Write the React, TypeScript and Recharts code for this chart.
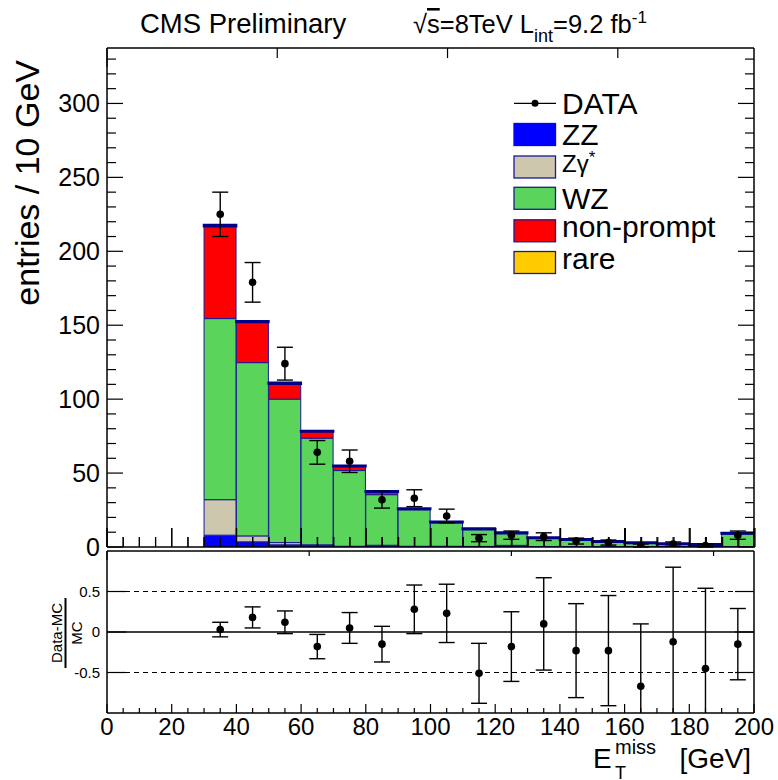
import React from 'react';
import { ComposedChart, Bar, Scatter, XAxis, YAxis, ErrorBar, ReferenceLine, Legend } from 'recharts';

const FONT = '"Liberation Sans", Arial, Helvetica, sans-serif';

// ---------------- data ----------------
const BIN_LABELS = ['0-10', '10-20', '20-30', '30-40', '40-50', '50-60', '60-70', '70-80', '80-90', '90-100',
  '100-110', '110-120', '120-130', '130-140', '140-150', '150-160', '160-170', '170-180', '180-190', '190-200'];
const ZZ =        [0, 0, 0, 8, 3.5, 1.5, 1, 0.3, 1, 0.3, 0.3, 0.3, 1, 0.2, 0.2, 0.2, 0.2, 0.2, 0.2, 0.2];
const ZGAMMA =    [0, 0, 0, 24, 4, 1.5, 0.5, 0.2, 0.2, 0.2, 0.2, 0.1, 0.1, 0.1, 0.1, 0.1, 0.1, 0.1, 0.1, 0.1];
const WZ =        [0, 0, 0, 122.5, 117.2, 97, 72.1, 51.2, 34.2, 24.7, 15.9, 11.5, 8.1, 5.6, 4.4, 3.1, 2.2, 1.5, 1.0, 8.6];
const NONPROMPT = [0, 0, 0, 62.5, 27.5, 10.5, 4.5, 3, 2, 0.5, 0.3, 0.2, 0.2, 0.2, 0.2, 0.2, 0.2, 0.2, 0.2, 0.2];
const RARE =      [0, 0, 0, 0.7, 0.5, 0.5, 0.4, 0.3, 0.3, 0.3, 0.3, 0.3, 0.3, 0.3, 0.3, 0.3, 0.3, 0.3, 0.3, 0.3];

const DATA_X =   [35, 45, 55, 65, 75, 85, 95, 105, 115, 125, 135, 145, 155, 165, 175, 185, 195];
const DATA_Y =   [225, 179, 124, 64, 58, 32, 33, 21, 6, 8, 7, 4, 3, 1, 2, 1, 8];
const DATA_ERR = [15, 13.4, 11.1, 8, 7.6, 5.7, 5.7, 4.6, 2.4, 2.8, 2.6, 2, 1.7, 1, 1.4, 1, 2.8];
const RATIO =     [0.03, 0.18, 0.12, -0.18, 0.05, -0.15, 0.28, 0.23, -0.51, -0.18, 0.1, -0.23, -0.23, -0.67, -0.12, -0.45, -0.15];
const RATIO_ERR = [0.09, 0.13, 0.14, 0.15, 0.19, 0.22, 0.3, 0.36, 0.37, 0.43, 0.57, 0.58, 0.68, 0.77, 0.92, 0.99, 0.44];

const X_TICKS = [0, 5, 10, 15, 20, 25, 30, 35, 40, 45, 50, 55, 60, 65, 70, 75, 80, 85, 90, 95, 100,
  105, 110, 115, 120, 125, 130, 135, 140, 145, 150, 155, 160, 165, 170, 175, 180, 185, 190, 195, 200];
const X_LABELS = [0, 20, 40, 60, 80, 100, 120, 140, 160, 180, 200];
const Y_TICKS = [0, 10, 20, 30, 40, 50, 60, 70, 80, 90, 100, 110, 120, 130, 140, 150, 160, 170, 180, 190, 200,
  210, 220, 230, 240, 250, 260, 270, 280, 290, 300, 310, 320, 330];
const Y_LABELS = [0, 50, 100, 150, 200, 250, 300];
const RATIO_TICKS = [-0.5, 0, 0.5];

const COLORS = { zz: '#0000ff', zg: '#ccc7ad', wz: '#5ad45a', np: '#ff0000', rare: '#ffcc00' };
const OUTLINE = '#1a1a99';

const LEGEND_ITEMS = [
  { key: 'data', name: 'DATA' },
  { key: 'zz', name: 'ZZ' },
  { key: 'zg', name: 'Zγ' },
  { key: 'wz', name: 'WZ' },
  { key: 'np', name: 'non-prompt' },
  { key: 'rare', name: 'rare' },
];

const mainRows = BIN_LABELS.map((bin, i) => ({
  bin, zz: ZZ[i], zg: ZGAMMA[i], wz: WZ[i], np: NONPROMPT[i], rare: RARE[i],
}));
const mainPoints = DATA_X.map((x, i) => ({ x, y: DATA_Y[i], err: DATA_ERR[i] }));
const ratioPoints = DATA_X.map((x, i) => ({ x, y: RATIO[i], err: RATIO_ERR[i] }));

// ---------------- layout ----------------
const W = 778;
const YW = 99;   // left axis width
const AX = 1;    // thin axes
const MAIN_H = 560;
const MAIN_M = { top: 47, right: 23, bottom: 12, left: 8 };
const RATIO_H = 240;
const RATIO_M = { top: 10, right: 23, bottom: 66, left: 8 };
const edges = (h: number, m: any) => ({
  left: m.left + YW, right: W - m.right - AX, top: m.top + AX, bottom: h - m.bottom - AX,
});
const ME = edges(MAIN_H, MAIN_M);
const RE = edges(RATIO_H, RATIO_M);

// ---------------- tick renderers ----------------
type Side = 'left' | 'right' | 'top' | 'bottom';
const makeTick = (side: Side, edge: number, majors: number[], majorLen: number, minorLen: number, label?: { size: number; off: number }) =>
  (p: any) => {
    const v = p.payload.value;
    const c = p.payload.coordinate;
    const major = majors.indexOf(v) >= 0;
    const len = major ? majorLen : minorLen;
    let line;
    if (side === 'left') line = <line x1={edge} x2={edge + len} y1={c} y2={c} stroke="#000" strokeWidth={1.2} />;
    else if (side === 'right') line = <line x1={edge} x2={edge - len} y1={c} y2={c} stroke="#000" strokeWidth={1.2} />;
    else if (side === 'top') line = <line x1={c} x2={c} y1={edge} y2={edge + len} stroke="#000" strokeWidth={1.2} />;
    else line = <line x1={c} x2={c} y1={edge} y2={edge - len} stroke="#000" strokeWidth={1.2} />;
    let txt = null;
    if (label && major) {
      const s = String(v);
      if (side === 'left') txt = <text x={edge - label.off} y={c} dy="0.36em" textAnchor="end" fontSize={label.size} fontFamily={FONT} fill="#000">{s}</text>;
      if (side === 'bottom') txt = <text x={c} y={edge + label.off} textAnchor="middle" fontSize={label.size} fontFamily={FONT} fill="#000">{s}</text>;
    }
    return <g>{line}{txt}</g>;
  };

const dot = (p: any) => <circle cx={p.cx} cy={p.cy} r={3.8} fill="#000" />;

// ---------------- legend ----------------
const LegendBox = () => {
  const ox = 500, oy = 80;
  const rows = [103.3, 134.5, 167, 198.3, 230.8, 262.5];
  return (
    <svg width={260} height={200} style={{ overflow: 'visible' }}>
      {LEGEND_ITEMS.map((it, i) => {
        const cy = rows[i] - oy;
        if (it.key === 'data') {
          return (
            <g key={it.key}>
              <line x1={514 - ox} x2={556 - ox} y1={cy} y2={cy} stroke="#000" strokeWidth={1.3} />
              <circle cx={535 - ox} cy={cy} r={3.5} fill="#000" />
              <text x={562 - ox} y={cy + 10.5} fontSize={30} fontFamily={FONT}>{it.name}</text>
            </g>
          );
        }
        const col = (COLORS as any)[it.key];
        return (
          <g key={it.key}>
            <rect x={514 - ox} y={cy - 11} width={41.5} height={22} fill={col} stroke={it.key === 'zz' ? col : OUTLINE} strokeWidth={1.3} />
            {it.key === 'zg' ? (
              <text x={562 - ox} y={cy + 4.5} fontSize={24} fontFamily={FONT}>{it.name}<tspan dy={-9} fontSize={17}>*</tspan></text>
            ) : (
              <text x={562 - ox} y={cy + (it.key === 'np' || it.key === 'rare' ? 6.5 : 10.5)} fontSize={30} fontFamily={FONT}>{it.name}</text>
            )}
          </g>
        );
      })}
    </svg>
  );
};

// ---------------- charts ----------------
const axisLine = { stroke: '#000', strokeWidth: 1.5 };

const MainChart = () => (
  <ComposedChart width={W} height={MAIN_H} data={mainRows} margin={MAIN_M} barCategoryGap={0} barGap={0}>
    <XAxis xAxisId="cat" dataKey="bin" type="category" hide />
    <Bar xAxisId="cat" yAxisId="l" dataKey="zz" name="ZZ" stackId="s" fill={COLORS.zz} stroke={OUTLINE} strokeWidth={1} isAnimationActive={false} />
    <Bar xAxisId="cat" yAxisId="l" dataKey="zg" name="Zγ*" stackId="s" fill={COLORS.zg} stroke={OUTLINE} strokeWidth={1} isAnimationActive={false} />
    <Bar xAxisId="cat" yAxisId="l" dataKey="wz" name="WZ" stackId="s" fill={COLORS.wz} stroke={OUTLINE} strokeWidth={1} isAnimationActive={false} />
    <Bar xAxisId="cat" yAxisId="l" dataKey="np" name="non-prompt" stackId="s" fill={COLORS.np} stroke={OUTLINE} strokeWidth={1} isAnimationActive={false} />
    <Bar xAxisId="cat" yAxisId="l" dataKey="rare" name="rare" stackId="s" fill={COLORS.rare} stroke="#000088" strokeWidth={2.6} isAnimationActive={false} />
    <Scatter xAxisId="nb" yAxisId="l" data={mainPoints} dataKey="y" name="DATA" shape={dot} isAnimationActive={false}>
      <ErrorBar dataKey="err" direction="y" width={8} stroke="#000" strokeWidth={1.4} isAnimationActive={false} />
    </Scatter>
    <XAxis xAxisId="nb" dataKey="x" type="number" domain={[0, 200]} ticks={X_TICKS} interval={0} height={AX}
      tickSize={0} tickMargin={0} tickLine={false} axisLine={axisLine}
      tick={makeTick('bottom', ME.bottom, X_LABELS, 19, 10)} allowDataOverflow />
    <XAxis xAxisId="t" orientation="top" type="number" domain={[0, 200]} ticks={X_TICKS} interval={0} height={AX}
      tickSize={0} tickMargin={0} tickLine={false} axisLine={axisLine}
      tick={makeTick('top', ME.top, X_LABELS, 19, 10)} allowDataOverflow />
    <YAxis yAxisId="l" type="number" domain={[0, 337.5]} ticks={Y_TICKS} interval={0} width={YW}
      tickSize={0} tickMargin={0} tickLine={false} axisLine={axisLine}
      tick={makeTick('left', ME.left, Y_LABELS, 16, 9, { size: 25, off: 7 })} allowDataOverflow />
    <YAxis yAxisId="r" orientation="right" type="number" domain={[0, 337.5]} ticks={Y_TICKS} interval={0} width={AX}
      tickSize={0} tickMargin={0} tickLine={false} axisLine={axisLine}
      tick={makeTick('right', ME.right, Y_LABELS, 16, 9)} allowDataOverflow />
    <Legend layout="vertical" align="center" verticalAlign="middle" content={() => <LegendBox />}
      wrapperStyle={{ position: 'absolute', left: 500, top: 80, width: 260, height: 200 }} />
  </ComposedChart>
);

// transparent overlay that redraws the inward bottom ticks of the main panel on top of the filled histogram
const MainTickOverlay = () => (
  <ComposedChart width={W} height={MAIN_H} data={mainPoints} margin={MAIN_M}>
    <XAxis xAxisId="nb" dataKey="x" type="number" domain={[0, 200]} ticks={X_TICKS} interval={0} height={AX}
      tickSize={0} tickMargin={0} tickLine={false} axisLine={axisLine}
      tick={makeTick('bottom', ME.bottom, X_LABELS, 19, 10)} allowDataOverflow />
    <YAxis yAxisId="l" type="number" domain={[0, 337.5]} ticks={[]} width={YW} tick={false} axisLine={false} tickLine={false} />
  </ComposedChart>
);

const RatioChart = () => (
  <ComposedChart width={W} height={RATIO_H} data={ratioPoints} margin={RATIO_M}>
    <ReferenceLine xAxisId="b" yAxisId="l" y={0} stroke="#000" strokeWidth={1.5} />
    <ReferenceLine xAxisId="b" yAxisId="l" y={0.5} stroke="#000" strokeWidth={1.2} strokeDasharray="5 4" />
    <ReferenceLine xAxisId="b" yAxisId="l" y={-0.5} stroke="#000" strokeWidth={1.2} strokeDasharray="5 4" />
    <Scatter xAxisId="b" yAxisId="l" data={ratioPoints} dataKey="y" shape={dot} isAnimationActive={false}>
      <ErrorBar dataKey="err" direction="y" width={8} stroke="#000" strokeWidth={1.4} isAnimationActive={false} />
    </Scatter>
    <XAxis xAxisId="b" dataKey="x" type="number" domain={[0, 200]} ticks={X_TICKS} interval={0} height={AX}
      tickSize={0} tickMargin={0} tickLine={false} axisLine={axisLine}
      tick={makeTick('bottom', RE.bottom, X_LABELS, 9, 5, { size: 24, off: 22 })} allowDataOverflow />
    <XAxis xAxisId="t" orientation="top" type="number" domain={[0, 200]} ticks={X_TICKS} interval={0} height={AX}
      tickSize={0} tickMargin={0} tickLine={false} axisLine={axisLine}
      tick={makeTick('top', RE.top, X_LABELS, 9, 5)} allowDataOverflow />
    <YAxis yAxisId="l" type="number" domain={[-1, 1]} ticks={RATIO_TICKS} interval={0} width={YW}
      tickSize={0} tickMargin={0} tickLine={false} axisLine={axisLine}
      tick={makeTick('left', RE.left, RATIO_TICKS, 19, 9, { size: 15, off: 7 })} allowDataOverflow />
    <YAxis yAxisId="r" orientation="right" type="number" domain={[-1, 1]} ticks={RATIO_TICKS} interval={0} width={AX}
      tickSize={0} tickMargin={0} tickLine={false} axisLine={axisLine}
      tick={makeTick('right', RE.right, RATIO_TICKS, 19, 9)} allowDataOverflow />
  </ComposedChart>
);

const RATIO_TOP = 540;

const Titles = () => (
  <svg width={W} height={780} style={{ position: 'absolute', left: 0, top: 0, pointerEvents: 'none' }} fontFamily={FONT}>
    <defs>
      <clipPath id="ratioClip" clipPathUnits="userSpaceOnUse">
        <rect x={RE.left - 8} y={RE.top} width={RE.right - RE.left + 16} height={RE.bottom - RE.top} />
      </clipPath>
    </defs>
    <text x={140} y={33} fontSize={27.5}>CMS Preliminary</text>
    <text x={413} y={33} fontSize={25.5}>
      √<tspan style={{ textDecoration: 'overline' }}>s</tspan>=8TeV L<tspan dy={9} fontSize={18}>int</tspan>
      <tspan dy={-9}>=9.2 fb</tspan><tspan dy={-10} fontSize={17}>-1</tspan>
    </text>
    <text transform="translate(38.5,60) rotate(-90)" textAnchor="end" fontSize={34}>entries / 10 GeV</text>
    <text transform="translate(62,633) rotate(-90)" textAnchor="middle" fontSize={15}>Data-MC</text>
    <line x1={65.5} x2={65.5} y1={598} y2={668} stroke="#000" strokeWidth={2} />
    <text transform="translate(82,633) rotate(-90)" textAnchor="middle" fontSize={15}>MC</text>
    <text x={593} y={768} fontSize={28}>E</text>
    <text x={615} y={779} fontSize={18}>T</text>
    <text x={615} y={754} fontSize={20}>miss</text>
    <text x={751} y={768} fontSize={28} textAnchor="end">[GeV]</text>
  </svg>
);

export default function App() {
  return (
    <div style={{ position: 'absolute', left: 0, top: 0, width: W, height: 780, background: '#fff', overflow: 'hidden', fontFamily: FONT }}>
      <style>{'.ratio-wrap .recharts-scatter, .ratio-wrap .recharts-errorBar { clip-path: url(#ratioClip); }'}</style>
      <div style={{ position: 'absolute', left: 0, top: 0 }}><MainChart /></div>
      <div style={{ position: 'absolute', left: 0, top: 0, pointerEvents: 'none' }}><MainTickOverlay /></div>
      <div className="ratio-wrap" style={{ position: 'absolute', left: 0, top: RATIO_TOP }}><RatioChart /></div>
      <Titles />
    </div>
  );
}
